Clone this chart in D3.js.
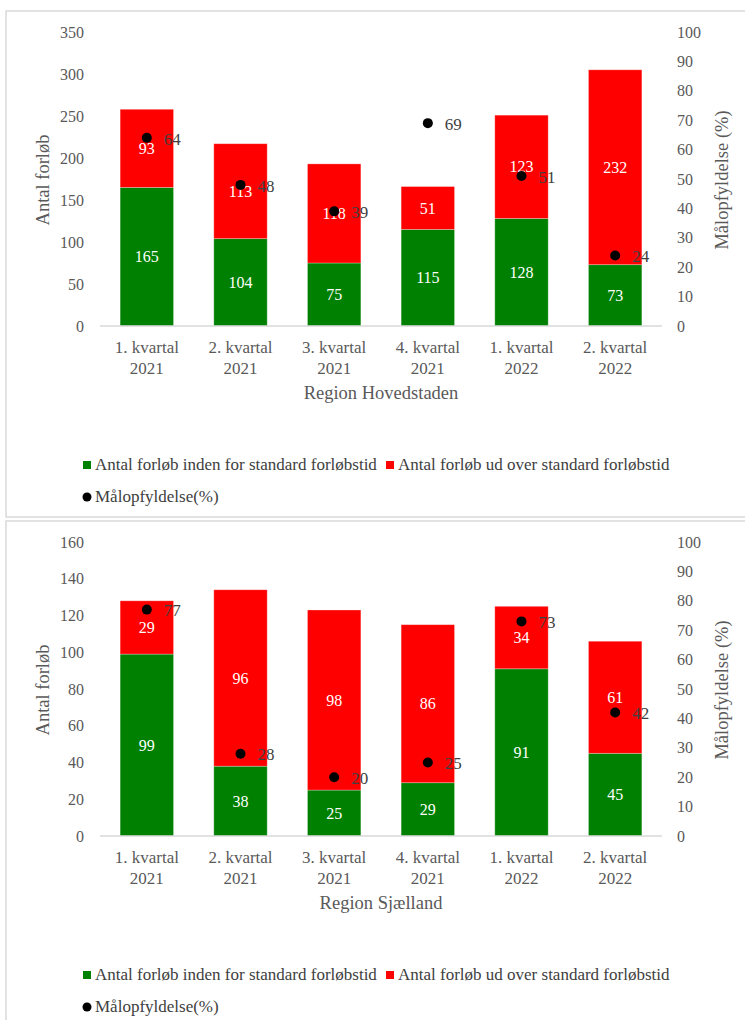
<!DOCTYPE html>
<html>
<head>
<meta charset="utf-8">
<script src="https://cdn.jsdelivr.net/npm/d3@7"></script>
<style>
  body { margin: 0; background: #fff; }
  svg { display: block; }
  svg text { font-family: "Liberation Serif", "Times New Roman", serif; }
</style>
</head>
<body>
<svg id="svgarea" width="745" height="1020"></svg>
<script>
const categories	= ['1. kvartal|2021', '2. kvartal|2021', '3. kvartal|2021', '4. kvartal|2021', '1. kvartal|2022', '2. kvartal|2022'];

const hovInden		= [165, 104, 75, 115, 128, 73];
const hovUdover		= [93, 113, 118, 51, 123, 232];
const hovPct		= [64, 48, 39, 69, 51, 24];
const hovTicks		= [0, 50, 100, 150, 200, 250, 300, 350];

const sjaInden		= [99, 38, 25, 29, 91, 45];
const sjaUdover		= [29, 96, 98, 86, 34, 61];
const sjaPct		= [77, 28, 20, 25, 73, 42];
const sjaTicks		= [0, 20, 40, 60, 80, 100, 120, 140, 160];

const pctTicks		= [0, 10, 20, 30, 40, 50, 60, 70, 80, 90, 100];

const serif			= '"Liberation Serif", "Times New Roman", serif';
const green			= '#008000';
const red			= '#ff0000';
const axisGrey		= '#595959';
const textGrey		= '#404040';

var svg = d3.select('#svgarea').attr('font-family', serif);

/**
 * Draws one panel (box, both axes, stacked bars, dots, legend)
 * @param top		(int) vertical offset of the panel
 */
function drawPanel(top, title, inden, udover, pct, ticks){
	var g = svg.append('g').attr('transform', 'translate(0,' + top + ')');

	// panel frame
	g.append('rect').
		attr('x', 6).attr('y', 11).
		attr('width', 760).attr('height', 506).
		attr('fill', 'none').attr('stroke', '#d9d9d9').attr('stroke-width', 1.5);

	var x = d3.scaleBand().domain(categories).range([100, 662]).paddingInner(0.43).paddingOuter(0.215);
	var y = d3.scaleLinear().domain([0, ticks[ticks.length - 1]]).range([326, 32]);
	var y2 = d3.scaleLinear().domain([0, 100]).range([326, 32]);

	// left axis
	var left = g.append('g').attr('transform', 'translate(84,0)').
		call(d3.axisLeft(y).tickValues(ticks).tickSize(0).tickPadding(0));
	left.attr('font-family', serif).attr('font-size', 16);
	left.select('.domain').remove();
	left.selectAll('text').attr('fill', axisGrey);

	// right axis
	var right = g.append('g').attr('transform', 'translate(677,0)').
		call(d3.axisRight(y2).tickValues(pctTicks).tickSize(0).tickPadding(0));
	right.attr('font-family', serif).attr('font-size', 16);
	right.select('.domain').remove();
	right.selectAll('text').attr('fill', axisGrey);

	// stacked bars
	var rows = categories.map(function(c, i){ return {cat: c, inden: inden[i], udover: udover[i], pct: pct[i]}; });
	var stack = d3.stack().keys(['inden', 'udover'])(rows);
	var colors = [green, red];
	stack.forEach(function(layer, li){
		var lg = g.append('g');
		lg.selectAll('rect').data(layer).join('rect').
			attr('x', function(d){ return x(d.data.cat); }).
			attr('y', function(d){ return y(d[1]); }).
			attr('width', x.bandwidth()).
			attr('height', function(d){ return y(d[0]) - y(d[1]); }).
			attr('fill', colors[li]).
			attr('stroke', '#ffffff').attr('stroke-opacity', 0.35).attr('stroke-width', 0.8);
		lg.selectAll('text').data(layer).join('text').
			attr('x', function(d){ return x(d.data.cat) + x.bandwidth() / 2; }).
			attr('y', function(d){ return y((d[0] + d[1]) / 2); }).
			attr('dy', '0.35em').
			attr('text-anchor', 'middle').
			attr('fill', '#ffffff').
			style('font-size', '16px').
			text(function(d){ return d[1] - d[0]; });
	});

	// x axis line
	g.append('line').
		attr('x1', 100).attr('x2', 662).
		attr('y1', 326).attr('y2', 326).
		attr('stroke', '#d9d9d9').attr('stroke-width', 1.3);

	// category labels
	categories.forEach(function(c){
		var parts = c.split('|');
		var t = g.append('text').
			attr('x', x(c) + x.bandwidth() / 2).
			attr('text-anchor', 'middle').
			attr('fill', axisGrey).
			style('font-size', '17px');
		t.append('tspan').attr('x', x(c) + x.bandwidth() / 2).attr('y', 353).text(parts[0]);
		t.append('tspan').attr('x', x(c) + x.bandwidth() / 2).attr('y', 374).text(parts[1]);
	});

	// dots
	g.append('g').selectAll('circle').data(rows).join('circle').
		attr('cx', function(d){ return x(d.cat) + x.bandwidth() / 2; }).
		attr('cy', function(d){ return y2(d.pct); }).
		attr('r', 5).
		attr('fill', '#000000');
	g.append('g').selectAll('text').data(rows).join('text').
		attr('x', function(d){ return x(d.cat) + x.bandwidth() / 2 + 17; }).
		attr('y', function(d){ return y2(d.pct); }).
		attr('dy', '0.4em').
		attr('fill', textGrey).
		style('font-size', '17px').
		text(function(d){ return d.pct; });

	// axis titles
	g.append('text').
		attr('transform', 'translate(49,180) rotate(-90)').
		attr('text-anchor', 'middle').
		attr('fill', axisGrey).
		style('font-size', '18.5px').
		text('Antal forløb');
	g.append('text').
		attr('transform', 'translate(728,180) rotate(-90)').
		attr('text-anchor', 'middle').
		attr('fill', axisGrey).
		style('font-size', '18.5px').
		text('Målopfyldelse (%)');
	g.append('text').
		attr('x', 381).attr('y', 399).
		attr('text-anchor', 'middle').
		attr('fill', axisGrey).
		style('font-size', '18.5px').
		text(title);

	// legend
	var leg = g.append('g').style('font-size', '17px').attr('fill', textGrey);
	leg.append('rect').attr('x', 83).attr('y', 461).attr('width', 8).attr('height', 8).attr('fill', green);
	leg.append('text').attr('x', 95).attr('y', 470).text('Antal forløb inden for standard forløbstid');
	leg.append('rect').attr('x', 386).attr('y', 461).attr('width', 8).attr('height', 8).attr('fill', red);
	leg.append('text').attr('x', 398).attr('y', 470).text('Antal forløb ud over standard forløbstid');
	leg.append('circle').attr('cx', 87).attr('cy', 497).attr('r', 4.5).attr('fill', '#000000');
	leg.append('text').attr('x', 95).attr('y', 502).text('Målopfyldelse(%)');
}

drawPanel(0, 'Region Hovedstaden', hovInden, hovUdover, hovPct, hovTicks);
drawPanel(510, 'Region Sjælland', sjaInden, sjaUdover, sjaPct, sjaTicks);
</script>
</body>
</html>
